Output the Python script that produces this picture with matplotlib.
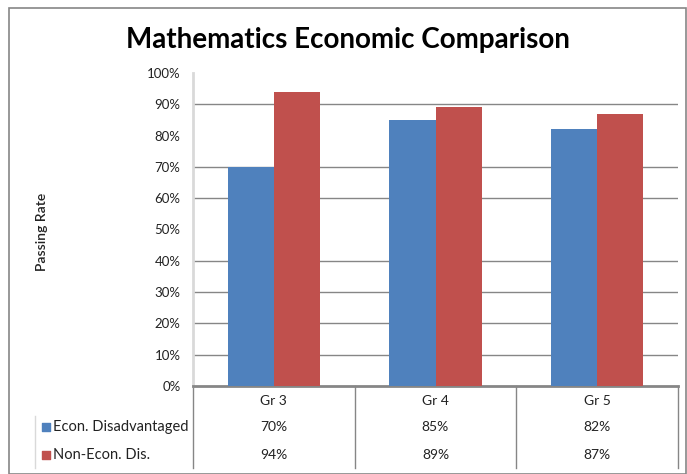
import matplotlib

matplotlib.use("Agg")
import matplotlib.pyplot as plt
from matplotlib.patches import Rectangle
from matplotlib.transforms import blended_transform_factory

grades = ["Gr 3", "Gr 4", "Gr 5"]
econ_dis = [70, 85, 82]
non_econ = [94, 89, 87]
series_names = ["Econ. Disadvantaged", "Non-Econ. Dis."]
y_ticks = [0, 10, 20, 30, 40, 50, 60, 70, 80, 90, 100]

BLUE = "#4F81BD"
RED = "#C0504D"
GRID = "#868686"

plt.rcParams["font.family"] = ["Lato", "DejaVu Sans"]

W, H = 687, 474
fig = plt.figure(figsize=(W / 100, H / 100), dpi=100)

# chart border
fig.patches.append(Rectangle((9 / W, 0), (W - 10) / W, (H - 8) / H, transform=fig.transFigure,
                             fill=False, edgecolor=GRID, lw=1.2))

ax = fig.add_axes([193 / W, (H - 386) / H, 485 / W, 313 / H])
x = range(len(grades))
bw = 0.285
ax.bar([i - bw / 2 for i in x], econ_dis, width=bw, color=BLUE, zorder=3)
ax.bar([i + bw / 2 for i in x], non_econ, width=bw, color=RED, zorder=3)

ax.set_xlim(-0.5, len(grades) - 0.5)
ax.set_ylim(0, 100)
ax.set_yticks(y_ticks)
ax.set_yticklabels([f"{v}%" for v in y_ticks], fontsize=9.5, color="#222222")
ax.tick_params(axis="y", length=0, pad=9)
ax.set_xticks([])
for v in y_ticks[1:-1]:
    if v in (50, 80):
        continue  # these gridlines are not visible in the source picture
    ax.axhline(v, color=GRID, lw=1, zorder=1)

for side in ("top", "right"):
    ax.spines[side].set_visible(False)
ax.spines["left"].set_color("#D9D9D9")
ax.spines["left"].set_linewidth(2)
ax.spines["bottom"].set_color(GRID)
ax.spines["bottom"].set_linewidth(2)

# data table under the axis
tr = blended_transform_factory(ax.transData, ax.transAxes)
row_y = [-0.048, -0.131, -0.220]
bottom = -0.262
for i, g in enumerate(grades):
    ax.text(i, row_y[0], g, transform=tr, ha="center", va="center", fontsize=10, color="#222222")
    ax.text(i, row_y[1], f"{econ_dis[i]}%", transform=tr, ha="center", va="center", fontsize=10, color="#222222")
    ax.text(i, row_y[2], f"{non_econ[i]}%", transform=tr, ha="center", va="center", fontsize=10, color="#222222")
for xb in [i - 0.5 for i in range(len(grades) + 1)]:
    ax.plot([xb, xb], [0, bottom], transform=tr, color=GRID, lw=1, clip_on=False)

ax.plot([-0.326, -0.326], [-0.096, bottom], transform=ax.transAxes, color="#D9D9D9", lw=1, clip_on=False)
for name, col, yy in zip(series_names, [BLUE, RED], row_y[1:]):
    ax.scatter([-0.303], [yy], transform=ax.transAxes, marker="s", s=36, color=col, clip_on=False)
    ax.text(-0.288, yy, name, transform=ax.transAxes, ha="left", va="center", fontsize=10.5, color="#222222")

fig.text(42 / W, 1 - 232 / H, "Passing Rate", rotation=90, ha="center", va="center",
         fontsize=10, fontweight="semibold", color="#222222")
fig.text(348 / W, 1 - 40 / H, "Mathematics Economic Comparison", ha="center", va="center",
         fontsize=20, fontweight="bold", color="black")

fig.savefig("out.png", dpi=100)
